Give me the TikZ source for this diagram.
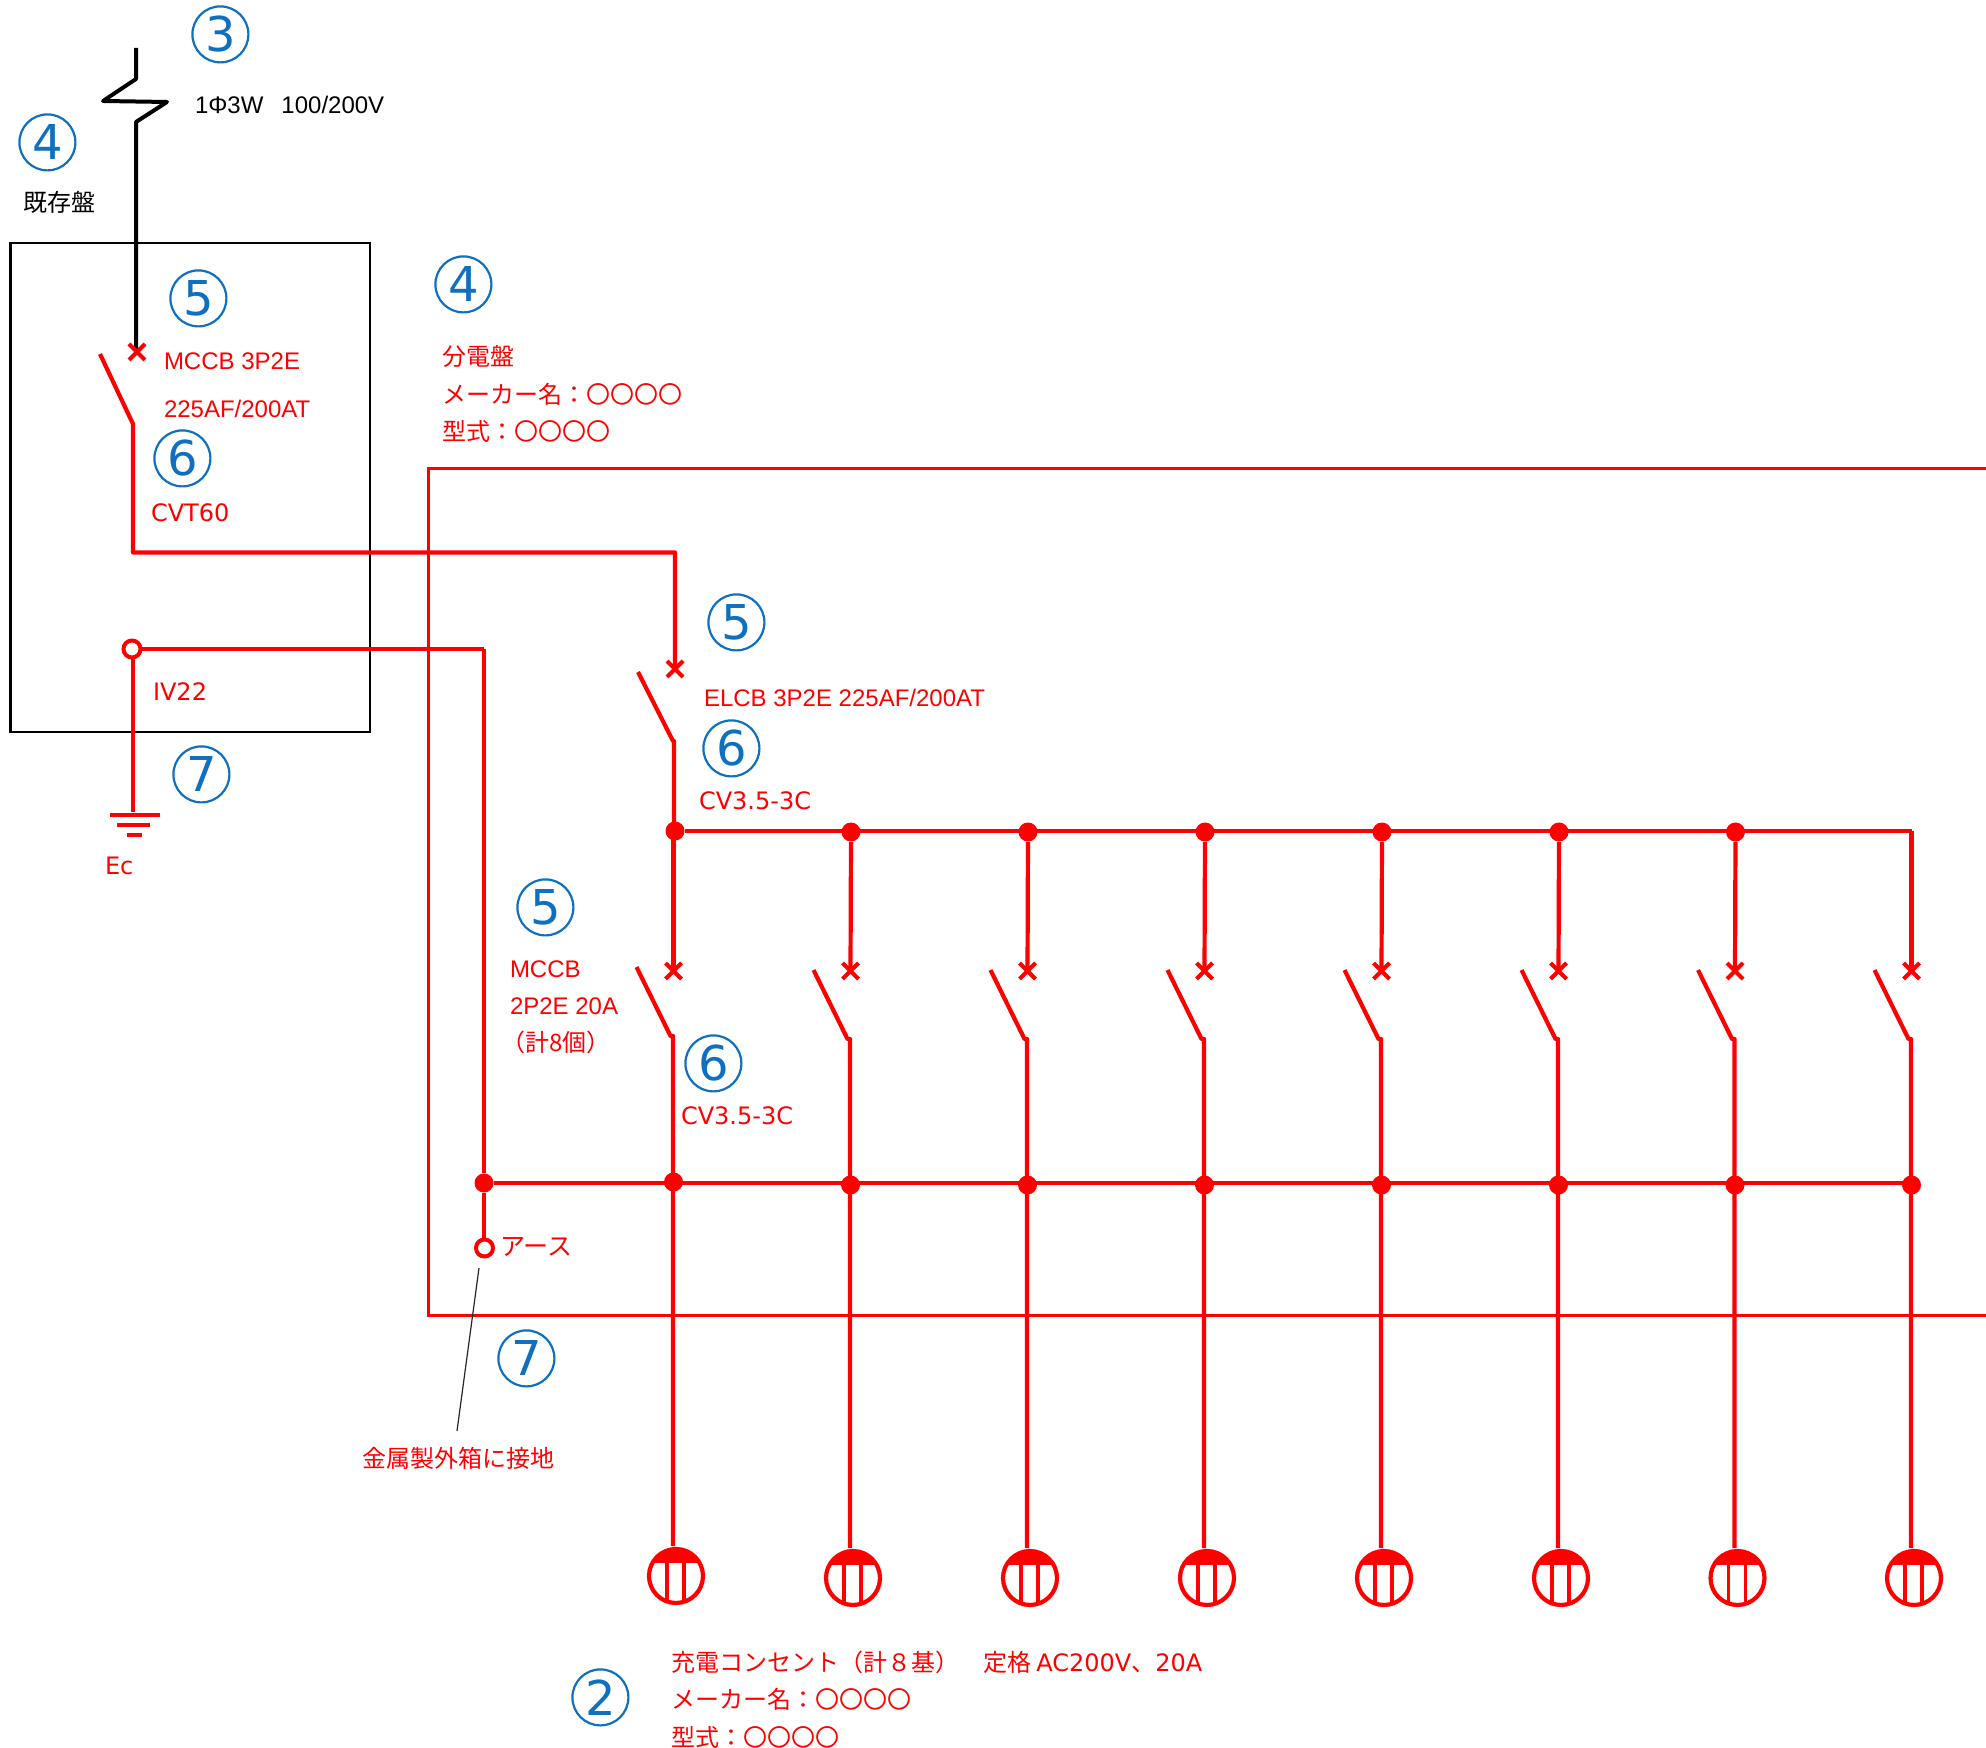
\documentclass[tikz,border=0pt]{standalone}
\usepackage{fontspec}
\setmainfont{Liberation Sans}
\newfontfamily\jp{Noto Sans CJK JP}
\newfontfamily\ns{DejaVu Sans}
\definecolor{numblue}{HTML}{0F70C0}
\definecolor{wirered}{HTML}{FF0000}
\tikzset{
  wire/.style={draw=wirered,line width=2.1pt,line cap=butt,line join=round},
  blk/.style={draw=black,line width=2pt,line join=round},
  panel/.style={draw=black,line width=1.45pt,line join=miter},
  panelred/.style={draw=wirered,line width=1.5pt,line join=miter},
  leader/.style={draw=black!85,line width=.6pt},
  num/.style={circle,draw=numblue,line width=1.1pt,minimum size=28pt,inner sep=0pt,text=numblue,font=\fontsize{24}{24}\selectfont\ns,xshift=.2pt,yshift=-.2pt},
  lab/.style={anchor=west,inner sep=0pt,outer sep=0pt,text=wirered,font=\fontsize{12}{12}\selectfont,text height=10pt,text depth=0pt},
  blab/.style={lab,text=black},
  jlab/.style={lab,font=\fontsize{12}{12}\selectfont\jp},
  mlab/.style={lab,font=\fontsize{12}{12}\selectfont\ns},
  dot/.style={circle,fill=wirered,inner sep=0pt,minimum size=9.5pt},
  odot/.style={circle,draw=wirered,fill=white,line width=2pt,inner sep=0pt,minimum size=8.5pt},
  pt/.style={inner sep=0pt,minimum size=0pt},
}
\newcommand{\xmark}[1]{\draw[wire] ([shift={(-8,-8)}]#1) -- ([shift={(8,8)}]#1) ([shift={(-8,8)}]#1) -- ([shift={(8,-8)}]#1);}
\begin{document}
\begin{tikzpicture}[x=.5pt,y=-.5pt]
\useasboundingbox (0,0) rectangle (1986,1748);
% panels
\draw[panel] (10.5,243) rectangle (370,732);
\draw[panelred] (1986,469) -- (428,469) -- (428,1315) -- (1986,1315);
% service line
\coordinate (s0) at (136,48); \coordinate (s1) at (136,79); \coordinate (s2) at (103,101);
\coordinate (s3) at (167,102); \coordinate (s4) at (136,122); \coordinate (x0) at (136,352);
\coordinate (x0m) at (137,352);
\draw[blk] (s0) -- (s1) -- (s2) -- (s3) -- (s4) -- (x0);
\xmark{x0m}
% main breaker
\coordinate (a0) at (100,354); \coordinate (a1) at (133,424); \coordinate (a2) at (133,552.5);
\coordinate (a3) at (675,552.5); \coordinate (x1) at (675,669);
\draw[wire] (a0) -- (a1) -- (a2) -- (a3) -- (x1);
\xmark{x1}
% ELCB
\coordinate (b0) at (638,672); \coordinate (b1) at (673,741); \node[dot] (d0) at (675,831) {};
\draw[wire] (b0) -- (b1) -- (674,741) -- (674,831);
\coordinate (tbe) at (1912,831);
\draw[wire] (d0) -- (tbe);
% earth
\node[pt] (gnd) at (133,812) {};
\node[pt] (e1) at (484,649) {};
\node[dot] (ej) at (484,1183) {};
\coordinate (busE) at (1912,1183);
\draw[wire] (ej) -- (busE);
\draw[wire] (gnd) -- (133,649) -- (e1) -- (ej);
\node[odot] (ecl) at (484.5,1248) {};
\draw[wire] (ej) -- (ej|-ecl.north);
\node[odot] at (132,649) {};
\draw[wire] (110,815) -- (160,815) (117,825) -- (150,825) (127,835) -- (142,835);
\draw[leader] (479,1268) -- (457,1431);
% branches
\foreach \i/\x/\topy/\boty/\recy in {1/673.5/831/1182/1576,2/850.5/832/1185/1578,3/1027.5/832/1185/1578,4/1204.5/832/1185/1578,5/1381.5/832/1185/1578,6/1558.5/832/1185/1578,7/1735/832/1185/1578,8/1911.5/831/1185/1578}{
  \ifnum\i>1 \ifnum\i<8 \node[dot] (t\i) at (\x+.5,\topy) {}; \else \coordinate (t\i) at (\x,\topy); \fi \else \coordinate (t\i) at (\x,\topy); \fi
  \coordinate (m\i) at (\x,971);
  \draw[wire] (t\i) -- (m\i);
  \xmark{m\i}
  \coordinate (p\i) at (\x-37,\boty-215);
  \coordinate (q\i) at (\x-3,\boty-146);
  \coordinate (v\i) at (\x-.5,\boty-146);
  \coordinate (r\i) at (\x-.5,\recy-30);
  \draw[wire] (p\i) -- (q\i) -- (v\i) -- (r\i);
  \node[dot] (u\i) at (\x,\boty) {};
  \begin{scope}
    \clip (\x+2.5,\recy) circle[radius=28];
    \fill[wirered] (\x-30,\recy-30) rectangle (\x+35,\recy-13);
    \draw[wire,line width=1.8pt] (\x-6.5,\recy-14) -- (\x-6.5,\recy+30) (\x+10.5,\recy-14) -- (\x+10.5,\recy+30);
  \end{scope}
  \draw[wire] (\x+2.5,\recy) circle[radius=27];
}
% numbers
\node[num] (n3) at (220,34) {3};
\node[num] (n4a) at (47,142) {4};
\node[num] (n5a) at (198,298) {5};
\node[num] (n6a) at (182,458) {6};
\node[num] (n4b) at (463,284) {4};
\node[num] (n5b) at (736,622) {5};
\node[num] (n6b) at (731,748) {6};
\node[num] (n5c) at (545,907) {5};
\node[num] (n6c) at (713,1063) {6};
\node[num] (n7a) at (201,774) {7};
\node[num] (n7b) at (526,1358) {7};
\node[num] (n2) at (600,1697) {2};
% texts
\node[blab] (t1) at (195,104) {1Φ3W\hspace{9pt}100/200V};
\node[blab,font=\fontsize{12}{12}\selectfont\jp] (t2) at (24,202) {既存盤};
\node[lab] (t3) at (164,360) {MCCB 3P2E};
\node[lab] (t4) at (164,408) {225AF/200AT};
\node[mlab] (t5) at (151,512) {CVT60};
\node[mlab] (t6) at (153,691) {IV22};
\node[mlab] (t7) at (105,864) {Ec};
\node[jlab] (t8) at (442,356) {分電盤};
\node[jlab] (t9) at (442,393.5) {メーカー名：〇〇〇〇};
\node[jlab] (t10) at (442,431) {型式：〇〇〇〇};
\node[lab] (t11) at (704,697) {ELCB 3P2E 225AF/200AT};
\node[mlab] (t12) at (699,799) {CV3.5-3C};
\node[lab] (t13) at (510,967) {MCCB};
\node[lab] (t14) at (510,1004.5) {2P2E 20A};
\node[jlab] (t15) at (501,1041) {（計8個）};
\node[mlab] (t16) at (681,1114) {CV3.5-3C};
\node[lab,font=\fontsize{12.5}{12.5}\selectfont\jp] (t17) at (500,1245) {アース};
\node[jlab] (t18) at (362,1457.5) {金属製外箱に接地};
\node[jlab] (t19) at (671,1661.5) {充電コンセント（計８基）　定格 {\ns AC200V}、{\ns 20A}};
\node[jlab] (t20) at (671,1698.5) {メーカー名：〇〇〇〇};
\node[jlab] (t21) at (671,1736.5) {型式：〇〇〇〇};
\end{tikzpicture}
\end{document}
